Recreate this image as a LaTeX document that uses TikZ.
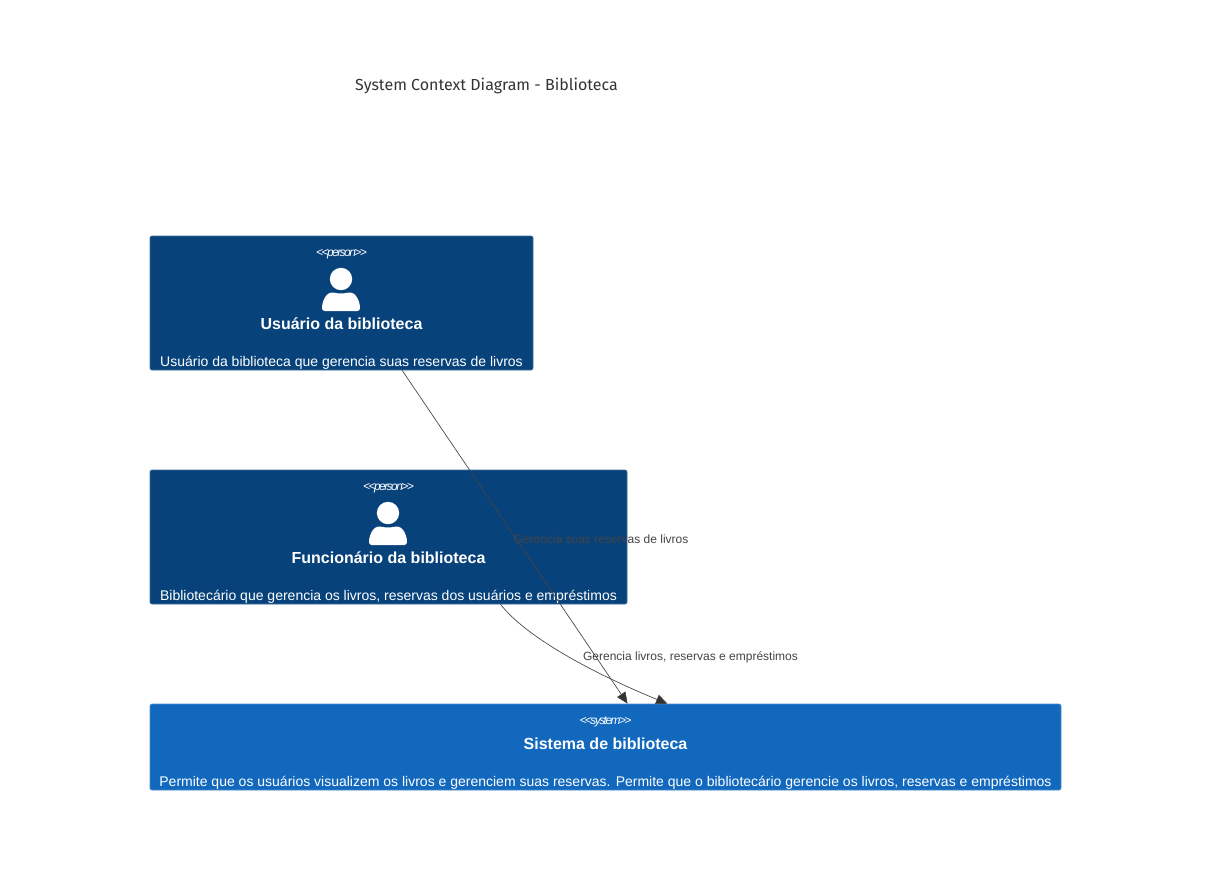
\documentclass[tikz,border=0pt]{standalone}
\usepackage{fontspec}
\setmainfont{Liberation Sans}
\newfontfamily\titlefont{Fira Sans}
\usetikzlibrary{arrows.meta,positioning}
\definecolor{personblue}{HTML}{08427B}
\definecolor{personline}{HTML}{3A6A9C}
\definecolor{systemblue}{HTML}{1168BD}
\definecolor{systemline}{HTML}{4A8CCF}
\definecolor{edgegray}{HTML}{444444}
\definecolor{tipgray}{HTML}{333333}
\definecolor{titlegray}{HTML}{333333}
\newcommand{\personicon}[2]{%
	\fill [white] (#1,#2-24) circle (8.4pt);
	\fill [white, rounded corners=2pt] (#1-19,#2+8) .. controls (#1-19,#2-3) and (#1-14,#2-10.5) .. (#1-7,#2-10.5) .. controls (#1-3,#2-9.5) and (#1+3,#2-9.5) .. (#1+7,#2-10.5) .. controls (#1+14,#2-10.5) and (#1+19,#2-3) .. (#1+19,#2+8) -- cycle;
}
\tikzset{
	personbox/.style={draw=personline, fill=personblue, line width=0.5pt, rounded corners=1.5pt, inner sep=0pt, minimum height=100.5pt},
	systembox/.style={draw=systemline, fill=systemblue, line width=0.5pt, rounded corners=1.5pt, inner sep=0pt, minimum width=683.25pt, minimum height=64.5pt},
	stereotype/.style={text=white, font={\fontsize{9}{11}\itshape\addfontfeature{LetterSpace=-13}\selectfont}},
	boxname/.style={text=white, font={\fontsize{12}{14}\bfseries\selectfont}},
	boxtext/.style={text=white, font={\fontsize{10.5}{13}\selectfont}},
	edgetext/.style={text=edgegray, font={\fontsize{9}{11}\selectfont}},
	relation/.style={draw=edgegray, line width=0.5pt, -{Triangle[length=8.5pt,width=7.5pt,fill=tipgray]}}
}
\begin{document}
\begin{tikzpicture}[x=0.75pt,y=-0.75pt]
	\useasboundingbox (0,0) rectangle (1211,890);
	\node [text=titlegray, font={\titlefont\fontsize{12}{14}\selectfont}] (title) at (486.5,85.5) {System Context Diagram - Biblioteca};

	% pessoas e sistema
	\node [personbox, minimum width=287.25pt] (usuario) at (341.5,303) {};
	\node [stereotype] (usuarioTipo) at (341.5,254) {<{}<person>{}>};
	\personicon{341}{303}
	\node [boxname] (usuarioNome) at (341.5,323.5) {Usuário da biblioteca};
	\node [boxtext] (usuarioDesc) at (341.5,362.5) {Usuário da biblioteca que gerencia suas reservas de livros};

	\node [personbox, minimum width=357.75pt] (funcionario) at (388.5,537) {};
	\node [stereotype] (funcionarioTipo) at (388.5,488) {<{}<person>{}>};
	\personicon{388}{537}
	\node [boxname] (funcionarioNome) at (388.5,557.5) {Funcionário da biblioteca};
	\node [boxtext] (funcionarioDesc) at (388.5,596.5) {Bibliotecário que gerencia os livros, reservas dos usuários e empréstimos};

	\node [systembox] (sistema) at (605.5,747) {};
	\node [stereotype] (sistemaTipo) at (605.5,722) {<{}<system>{}>};
	\node [boxname] (sistemaNome) at (605.5,743.5) {Sistema de biblioteca};
	\node [boxtext] (sistemaDesc) at (605.5,782.5) {Permite que os usuários visualizem os livros e gerenciem suas reservas. Permite que o bibliotecário gerencie os livros, reservas e empréstimos};

	% relacoes
	\draw [relation] (usuario.-48.8) -- (sistema.63.4);
	\draw [relation] (funcionario.-31.7) .. controls (525,636) and (590,672) .. (sistema.35);
	\node [edgetext] (relUsuario) at (601,539.5) {Gerencia suas reservas de livros};
	\node [edgetext] (relFuncionario) at (690.5,657) {Gerencia livros, reservas e empréstimos};
\end{tikzpicture}
\end{document}
